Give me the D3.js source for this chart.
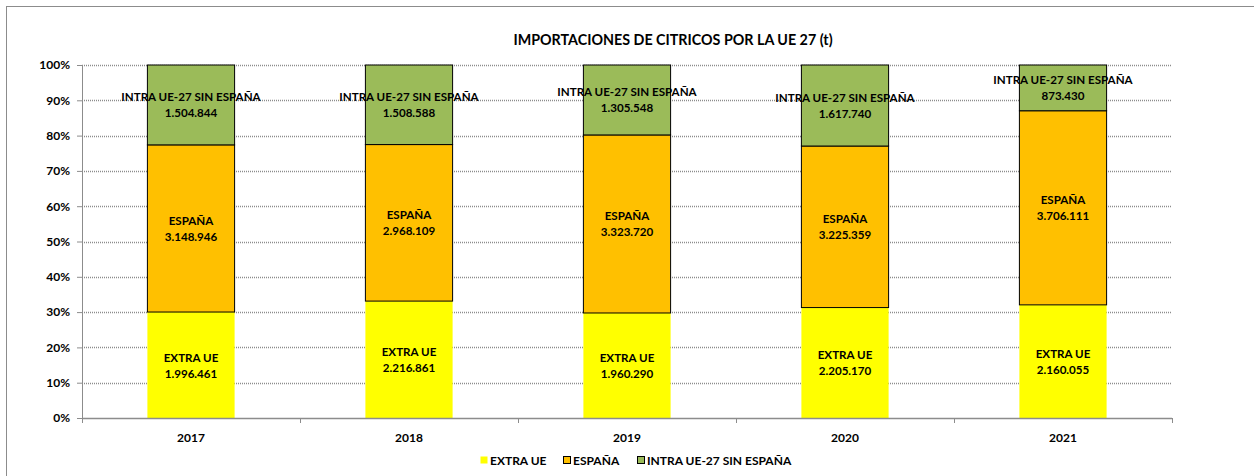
<!DOCTYPE html>
<html>
<head>
<meta charset="utf-8">
<script src="https://cdn.jsdelivr.net/npm/d3@7"></script>
<style>
  body { margin: 0; background: #fff; }
  text { font-family: Lato, "Open Sans", sans-serif; font-weight: bold; fill: #000; }
</style>
</head>
<body>
<svg id="chart" width="1254" height="476"></svg>
<script>
// data
var years = ["2017", "2018", "2019", "2020", "2021"];
var extraUE = [1996461, 2216861, 1960290, 2205170, 2160055];
var espana = [3148946, 2968109, 3323720, 3225359, 3706111];
var intraUE = [1504844, 1508588, 1305548, 1617740, 873430];
var seriesNames = ["EXTRA UE", "ESPAÑA", "INTRA UE-27 SIN ESPAÑA"];
var seriesColors = ["#ffff00", "#ffc000", "#9bbb59"];
var yTicks = [0, 0.1, 0.2, 0.3, 0.4, 0.5, 0.6, 0.7, 0.8, 0.9, 1];

var margin = {top: 65, right: 82, bottom: 58, left: 82},
    width = 1254 - margin.left - margin.right,
    height = 476 - margin.top - margin.bottom;

var svg = d3.select("#chart");

// chart frame
svg.append("rect")
  .attr("x", 6.5).attr("y", 6.5)
  .attr("width", 1260).attr("height", 480)
  .attr("fill", "none").attr("stroke", "#8c8c8c").attr("stroke-width", 1);

svg.append("text")
  .attr("x", 673).attr("y", 45)
  .attr("text-anchor", "middle")
  .style("font-size", "14.3px")
  .text("IMPORTACIONES DE CITRICOS POR LA UE 27 (t)");

var g = svg.append("g").attr("transform", "translate(" + margin.left + "," + margin.top + ")");

// build table for the stack
var rows = years.map(function(y, i) {
  var tot = extraUE[i] + espana[i] + intraUE[i];
  return {year: y, total: tot, s0: extraUE[i], s1: espana[i], s2: intraUE[i]};
});

var x = d3.scaleBand().domain(years).range([0, width]).paddingInner(0.6).paddingOuter(0.3);
var band = d3.scaleBand().domain(years).range([0, width]);
var y = d3.scaleLinear().domain([0, 1]).range([height, 0]);

// gridlines
g.selectAll(".grid").data(yTicks.slice(1))
  .enter().append("line")
  .attr("x1", 0).attr("x2", width)
  .attr("y1", function(d) { return Math.round(y(d)) + 0.5; })
  .attr("y2", function(d) { return Math.round(y(d)) + 0.5; })
  .attr("stroke", "#8c8c8c").attr("stroke-width", 1.3)
  .attr("stroke-dasharray", "1,1");

var stack = d3.stack().keys(["s0", "s1", "s2"]).offset(d3.stackOffsetExpand);
var layers = stack(rows);

var lg = g.selectAll(".layer").data(layers).enter().append("g")
  .attr("fill", function(d, i) { return seriesColors[i]; })
  .attr("stroke", function(d, i) { return i == 0 ? "none" : "#000"; })
  .attr("stroke-width", 1);

lg.selectAll("rect").data(function(d) { return d; })
  .enter().append("rect")
  .attr("x", function(d) { return x(d.data.year); })
  .attr("width", x.bandwidth())
  .attr("y", function(d) { return y(d[1]); })
  .attr("height", function(d) { return y(d[0]) - y(d[1]); });

// value labels
var fmt = function(v) { return d3.format(",")(v).replace(/,/g, "."); };
layers.forEach(function(layer, li) {
  layer.forEach(function(d) {
    var cx = x(d.data.year) + x.bandwidth() / 2;
    var cy = (y(d[0]) + y(d[1])) / 2;
    var t = g.append("text").attr("text-anchor", "middle").style("font-size", "11.6px");
    t.append("tspan").attr("x", cx).attr("y", cy - 3.5).text(seriesNames[li]);
    t.append("tspan").attr("x", cx).attr("y", cy + 12.5).text(fmt(d.data["s" + li]));
  });
});

// y axis
var yAxis = g.append("g").call(d3.axisLeft(y).tickValues(yTicks).tickFormat(d3.format(".0%")).tickSize(5).tickPadding(7));
yAxis.select(".domain").attr("stroke", "#8c8c8c");
yAxis.selectAll(".tick line").attr("stroke", "#8c8c8c");
yAxis.selectAll("text").style("font-size", "12px");

// x axis with ticks on band boundaries
var xg = g.append("g").attr("transform", "translate(0," + height + ")");
xg.append("line").attr("x1", 0).attr("x2", width).attr("y1", 0.5).attr("y2", 0.5)
  .attr("stroke", "#8c8c8c").attr("stroke-width", 1.5);
var bounds = years.map(function(d) { return band(d); }).concat([width]);
xg.selectAll(".bt").data(bounds).enter().append("line")
  .attr("x1", function(d) { return Math.round(d) + 0.5; })
  .attr("x2", function(d) { return Math.round(d) + 0.5; })
  .attr("y1", 0).attr("y2", 5)
  .attr("stroke", "#8c8c8c");
xg.selectAll(".yl").data(years).enter().append("text")
  .attr("x", function(d) { return band(d) + band.bandwidth() / 2; })
  .attr("y", 24)
  .attr("text-anchor", "middle")
  .style("font-size", "12px")
  .text(function(d) { return d; });

// legend
var legendX = [480, 563, 637];
var leg = svg.selectAll(".leg").data(seriesNames).enter().append("g")
  .attr("transform", function(d, i) { return "translate(" + legendX[i] + ",456)"; });
leg.append("rect")
  .attr("x", 0.5).attr("y", 0.5).attr("width", 7).attr("height", 7)
  .attr("fill", function(d, i) { return seriesColors[i]; })
  .attr("stroke", function(d, i) { return i == 0 ? "none" : "#000"; });
leg.append("text").attr("x", 10).attr("y", 8.5)
  .style("font-size", "12px")
  .text(function(d) { return d; });
</script>
</body>
</html>
